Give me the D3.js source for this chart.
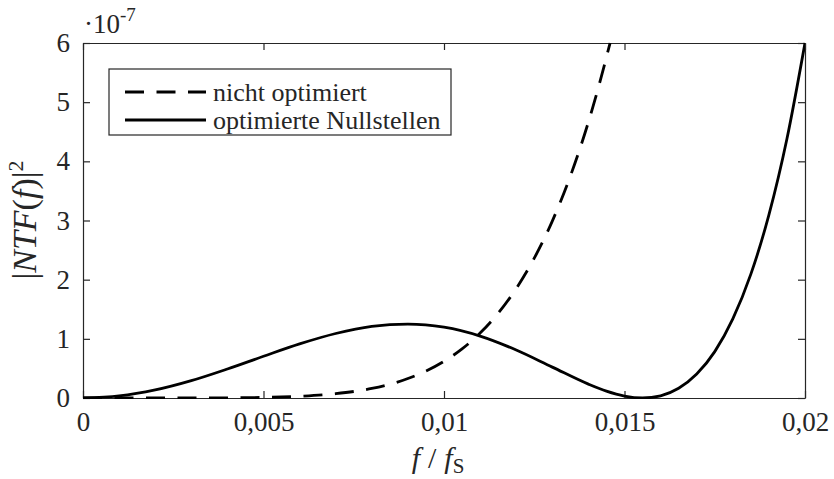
<!DOCTYPE html>
<html>
<head>
<meta charset="utf-8">
<script src="https://cdn.jsdelivr.net/npm/d3@7/dist/d3.min.js"></script>
<style>
  body { margin: 0; background: #fff; }
  svg text { font-family: "Liberation Serif", "DejaVu Serif", "Times New Roman", Times, serif; fill: #262626; }
  .axis path, .axis line { stroke: #262626; stroke-width: 1.2; }
  .curve { fill: none; stroke: #000; stroke-width: 2.8; }
</style>
</head>
<body>
<div id="chart"></div>
<script>
// data (x in f/fS, y in units of 1e-7)
var freq = [0, 0.001, 0.002, 0.003, 0.004, 0.005, 0.006, 0.007, 0.008, 0.009, 0.010,
  0.011, 0.012, 0.013, 0.014, 0.0145, 0.015, 0.0155, 0.016, 0.0165, 0.017, 0.0175,
  0.018, 0.0185, 0.019, 0.0195, 0.020];
var optimiert = [0, 0.035, 0.136, 0.293, 0.490, 0.705, 0.914, 1.090, 1.210, 1.249, 1.196,
  1.046, 0.811, 0.522, 0.234, 0.115, 0.032, 0, 0.037, 0.164, 0.404, 0.784,
  1.336, 2.093, 3.094, 4.381, 6.0];

var freqNicht = [0, 0.001, 0.002, 0.003, 0.004, 0.005, 0.006, 0.007, 0.008, 0.009, 0.010,
  0.0105, 0.011, 0.0115, 0.012, 0.0125, 0.013, 0.0135, 0.014, 0.0143, 0.0146];
var nichtOptimiert = [0, 0, 0.0001, 0.0005, 0.0025, 0.0097, 0.029, 0.073, 0.162, 0.329, 0.619,
  0.830, 1.097, 1.433, 1.850, 2.363, 2.990, 3.750, 4.664, 5.30, 6.0];

var xTicks = [0, 0.005, 0.01, 0.015, 0.02];
var xTickLabels = ["0", "0,005", "0,01", "0,015", "0,02"];
var yTicks = [0, 1, 2, 3, 4, 5, 6];
var legendLabels = ["nicht optimiert", "optimierte Nullstellen"];

var serif = '"Liberation Serif", "DejaVu Serif", "Times New Roman", Times, serif';

var width = 834, height = 479;
var margin = { top: 43, right: 29, bottom: 81, left: 83 };
var w = width - margin.left - margin.right;
var h = height - margin.top - margin.bottom;

var svg = d3.select("#chart").append("svg")
  .attr("width", width)
  .attr("height", height)
  .attr("font-family", serif);

var g = svg.append("g")
  .attr("transform", `translate(${margin.left}, ${margin.top})`);

var xScale = d3.scaleLinear().domain([0, 0.02]).range([0, w]);
var yScale = d3.scaleLinear().domain([0, 6]).range([h, 0]);

// axes, ticks inside on all four sides
g.append("g")
  .attr("class", "axis")
  .attr("transform", `translate(0, ${h})`)
  .call(d3.axisBottom(xScale).tickValues(xTicks)
    .tickFormat(function (d, i) { return xTickLabels[i]; })
    .tickSizeInner(-7).tickSizeOuter(0).tickPadding(14));

g.append("g")
  .attr("class", "axis")
  .call(d3.axisTop(xScale).tickValues(xTicks).tickFormat("")
    .tickSizeInner(-7).tickSizeOuter(0));

g.append("g")
  .attr("class", "axis")
  .call(d3.axisLeft(yScale).tickValues(yTicks).tickFormat(d3.format("d"))
    .tickSizeInner(-7).tickSizeOuter(0).tickPadding(13));

g.append("g")
  .attr("class", "axis")
  .attr("transform", `translate(${w}, 0)`)
  .call(d3.axisRight(yScale).tickValues(yTicks).tickFormat("")
    .tickSizeInner(-7).tickSizeOuter(0));

g.selectAll(".axis").attr("font-family", serif).attr("font-size", 27);

// curves
g.append("clipPath").attr("id", "clip")
  .append("rect").attr("x", 0).attr("y", -1).attr("width", w).attr("height", h + 2);

var line = d3.line()
  .x(function (d) { return xScale(d[0]); })
  .y(function (d) { return yScale(d[1]); })
  .curve(d3.curveMonotoneX);

g.append("path")
  .attr("class", "curve")
  .attr("clip-path", "url(#clip)")
  .attr("stroke-dasharray", "19,12.5")
  .attr("d", line(d3.zip(freqNicht, nichtOptimiert)));

g.append("path")
  .attr("class", "curve")
  .attr("clip-path", "url(#clip)")
  .attr("d", line(d3.zip(freq, optimiert)));

// exponent
var expo = svg.append("text")
  .attr("x", 84)
  .attr("y", 33)
  .style("font-size", "27px");
expo.append("tspan").text("·10");
expo.append("tspan").attr("dy", -12).style("font-size", "19px").text("-7");

// legend
var legend = svg.append("g").attr("transform", `translate(${109}, ${69})`);
legend.append("rect")
  .attr("width", 342).attr("height", 66)
  .attr("fill", "#fff").attr("stroke", "#262626").attr("stroke-width", 1.2);

legendLabels.forEach(function (label, i) {
  var yy = 23 + i * 28;
  legend.append("line")
    .attr("x1", 16).attr("x2", 97)
    .attr("y1", yy).attr("y2", yy)
    .attr("stroke", "#000").attr("stroke-width", 2.8)
    .attr("stroke-dasharray", i === 0 ? "19,12.5" : null);
  legend.append("text")
    .attr("x", 104).attr("y", yy + 9)
    .style("font-size", "26px")
    .text(label);
});

// y label |NTF(f)|^2
var ylab = svg.append("text")
  .attr("transform", `translate(${36}, ${220}) rotate(-90)`)
  .attr("text-anchor", "middle")
  .style("font-size", "34px");
ylab.append("tspan").text("|");
ylab.append("tspan").style("font-style", "italic").text("NTF");
ylab.append("tspan").text("(");
ylab.append("tspan").style("font-style", "italic").text("f");
ylab.append("tspan").text(")|");
ylab.append("tspan").attr("dy", -13).style("font-size", "22px").text("2");

// x label f / fS
var xlab = svg.append("text")
  .attr("x", 438)
  .attr("y", 468)
  .attr("text-anchor", "middle")
  .style("font-size", "30px");
xlab.append("tspan").style("font-style", "italic").text("f");
xlab.append("tspan").attr("dx", 8).text("/");
xlab.append("tspan").attr("dx", 8).style("font-style", "italic").text("f");
xlab.append("tspan").attr("dy", 5).style("font-size", "21px").text("S");
</script>
</body>
</html>
